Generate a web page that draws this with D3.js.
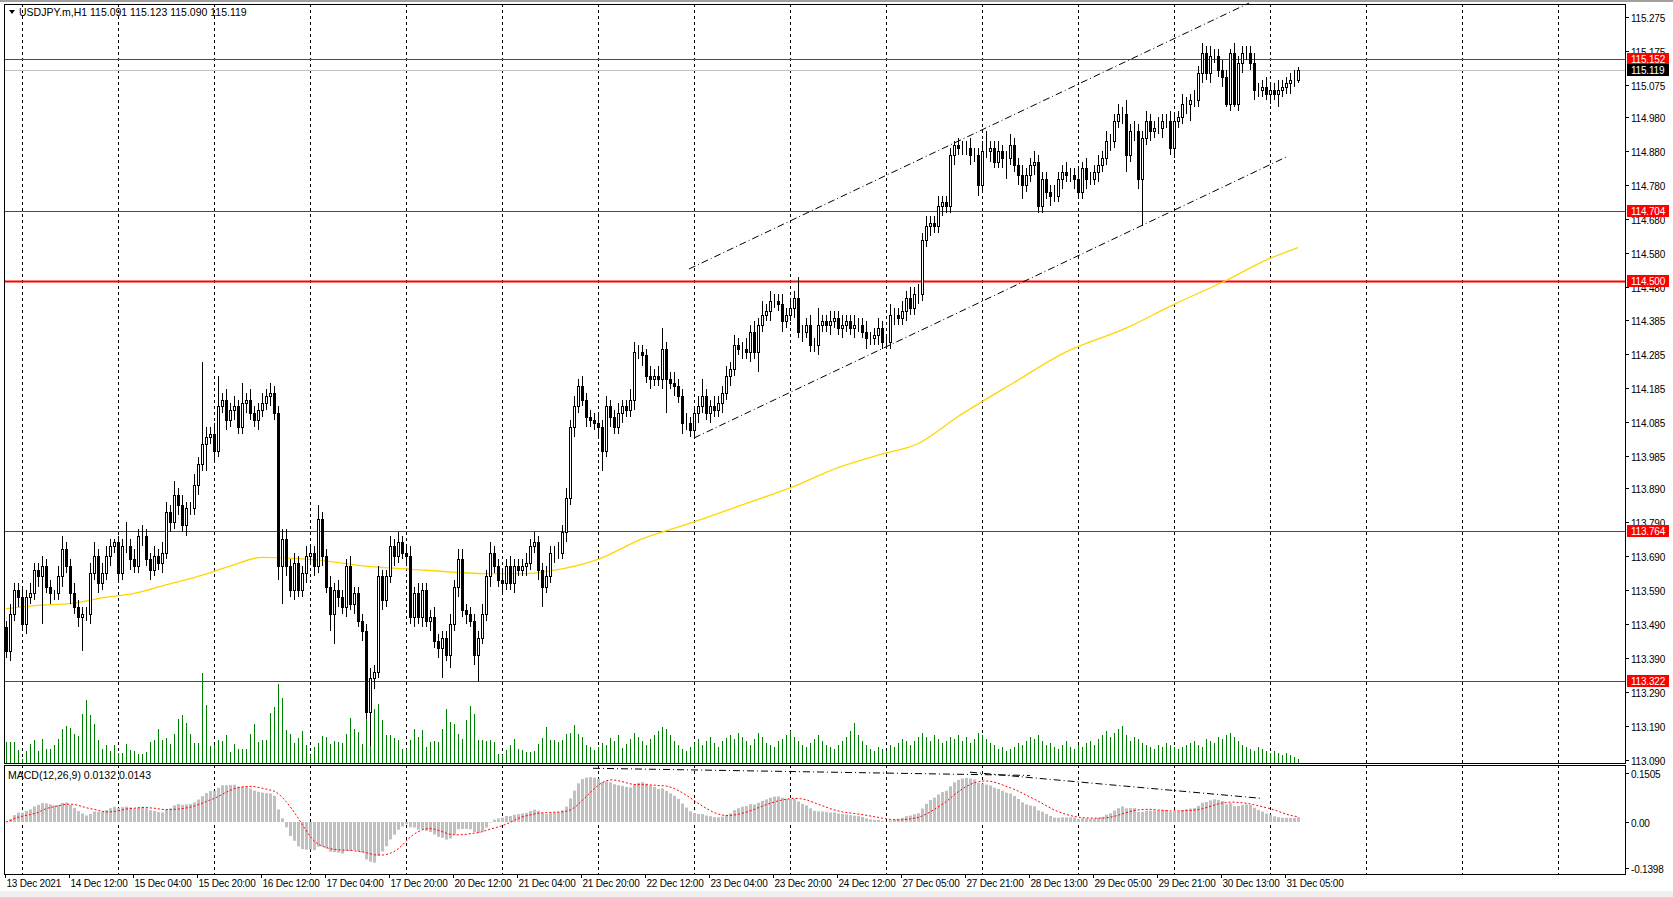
<!DOCTYPE html>
<html>
<head>
<meta charset="utf-8">
<script src="https://cdn.jsdelivr.net/npm/d3@7"></script>
<style>
  body { margin: 0; background: #fff; }
  svg text { font-family: "Liberation Sans", Arial, sans-serif; font-size: 10.5px; fill: #000; }
  svg text.ax { font-size: 10px; letter-spacing: -0.2px; }
</style>
</head>
<body>
<div id="chart"></div>
<script>
// hourly closes, USDJPY 13 Dec 2021 .. 31 Dec 2021
const closes = [
  113.41,113.52,113.59,113.57,113.49,113.57,113.58,113.65,113.63,113.66,113.60,113.58,113.58,113.63,113.71,113.66,113.58,113.54,113.51,113.52,
  113.52,113.64,113.69,113.61,113.64,113.69,113.72,113.73,113.64,113.72,113.72,113.68,113.66,113.75,113.75,113.68,113.65,113.69,113.67,113.70,
  113.82,113.79,113.87,113.84,113.78,113.83,113.83,113.90,113.96,114.02,114.04,114.05,114.00,114.13,114.15,114.09,114.12,114.13,114.07,114.14,
  114.15,114.11,114.09,114.12,114.14,114.16,114.17,114.11,113.66,113.74,113.66,113.59,113.67,113.59,113.64,113.69,113.70,113.66,113.80,113.69,
  113.60,113.52,113.59,113.57,113.54,113.66,113.55,113.58,113.50,113.47,113.23,113.33,113.35,113.63,113.56,113.63,113.72,113.69,113.73,113.70,
  113.69,113.51,113.58,113.51,113.59,113.50,113.51,113.44,113.42,113.45,113.40,113.49,113.60,113.68,113.53,113.52,113.50,113.40,113.45,113.52,
  113.63,113.70,113.66,113.62,113.61,113.66,113.61,113.66,113.65,113.66,113.67,113.72,113.73,113.65,113.60,113.63,113.70,113.70,113.70,113.76,
  113.86,114.07,114.13,114.19,114.15,114.10,114.09,114.08,114.07,114.00,114.13,114.10,114.07,114.11,114.13,114.12,114.15,114.29,114.29,114.28,
  114.22,114.21,114.22,114.21,114.30,114.21,114.20,114.19,114.16,114.08,114.08,114.06,114.11,114.13,114.16,114.11,114.13,114.12,114.14,114.17,
  114.22,114.24,114.31,114.30,114.30,114.29,114.35,114.29,114.37,114.40,114.41,114.44,114.44,114.43,114.38,114.40,114.42,114.45,114.35,114.35,
  114.37,114.31,114.31,114.37,114.38,114.37,114.38,114.39,114.36,114.37,114.38,114.36,114.37,114.37,114.35,114.33,114.33,114.34,114.36,114.32,
  114.32,114.40,114.40,114.39,114.41,114.45,114.42,114.46,114.46,114.62,114.66,114.67,114.66,114.72,114.73,114.72,114.87,114.90,114.89,114.89,
  114.89,114.87,114.87,114.78,114.88,114.88,114.89,114.85,114.88,114.86,114.86,114.90,114.84,114.81,114.78,114.81,114.84,114.85,114.72,114.80,
  114.76,114.75,114.75,114.80,114.82,114.81,114.81,114.80,114.76,114.83,114.80,114.80,114.82,114.84,114.86,114.91,114.91,114.97,114.99,114.99,
  114.87,114.94,114.94,114.80,114.92,114.97,114.94,114.95,114.95,114.97,114.97,114.89,114.97,114.98,115.02,115.02,115.03,115.03,115.11,115.17,
  115.11,115.16,115.16,115.12,115.10,115.02,115.17,115.02,115.14,115.17,115.17,115.14,115.06,115.06,115.07,115.05,115.06,115.05,115.06,115.07,
  115.08,115.09,115.09,115.119
];
const firstOpen = 113.48;

// wick length beyond the body, in pips (0.01)
const hiPips = [
  2,3,2,2,3,2,3,2,2,3,2,2,1,3,4,2,2,3,2,2,
  2,3,4,2,3,3,2,1,2,2,7,2,3,2,3,2,2,3,2,3,
  3,2,4,2,3,2,2,3,2,24,3,2,3,9,2,3,2,3,2,6,
  2,3,2,2,3,2,3,2,2,3,3,2,3,2,2,3,2,2,4,2,
  2,3,2,3,2,2,3,2,2,2,2,3,2,3,2,2,3,2,3,2,
  2,3,2,3,2,2,2,3,2,2,2,3,2,3,3,2,2,2,2,3,
  2,3,2,2,3,2,3,2,2,2,3,2,3,2,2,3,2,2,3,2,
  3,2,3,2,3,2,2,2,3,2,3,2,2,3,2,2,3,3,2,2,
  2,3,2,3,6,2,2,3,2,2,3,2,2,3,5,2,2,3,2,2,
  3,2,3,2,2,3,2,3,2,4,2,3,2,2,3,2,3,2,6,2,
  2,3,2,5,2,2,3,2,2,3,2,2,3,2,2,3,2,2,3,2,
  2,3,2,2,3,2,3,2,3,2,3,2,2,3,2,2,2,1,2,2,
  2,3,2,2,3,6,2,2,3,2,2,3,2,2,3,2,2,3,2,2,
  2,2,3,2,2,3,2,2,3,2,3,2,2,3,2,3,2,2,3,2,
  4,2,3,2,2,3,2,2,3,2,2,3,2,2,3,2,2,3,2,3,
  2,3,2,2,3,2,1,3,2,2,2,2,3,2,2,3,2,2,3,2,
  2,2,3,1
];
const loPips = [
  2,3,2,3,2,3,2,2,3,14,2,3,2,2,3,2,3,2,3,10,
  2,3,2,3,2,2,3,2,3,2,2,3,2,2,3,2,3,2,2,3,
  2,3,2,3,2,3,2,2,3,2,8,2,3,2,2,3,2,3,2,2,
  3,2,2,3,2,2,3,2,4,11,3,2,3,2,2,3,2,3,2,3,
  2,5,9,3,2,3,2,3,2,3,2,10,3,2,3,2,2,3,2,2,
  3,2,3,2,3,2,3,2,3,9,2,4,2,3,2,3,2,3,8,2,
  2,3,2,2,3,2,2,3,2,2,3,2,2,3,6,2,2,3,2,2,
  3,2,3,2,2,3,2,2,3,6,2,3,2,2,3,2,2,3,2,3,
  2,3,2,2,3,10,2,3,2,3,2,2,2,3,2,2,3,2,2,3,
  2,3,2,2,3,2,3,2,6,2,2,3,2,2,3,2,2,3,2,3,
  2,2,2,3,2,2,3,2,2,3,2,2,3,2,2,3,2,2,3,2,
  2,2,3,2,2,3,2,2,3,2,2,3,2,2,3,2,2,3,2,2,
  2,3,2,3,2,2,3,2,2,3,6,2,2,3,4,2,2,3,2,2,
  2,3,2,2,3,2,2,3,2,2,3,2,2,3,2,2,3,2,2,3,
  5,2,3,3,14,2,3,2,2,3,2,2,3,2,2,3,5,2,2,3,
  2,3,2,2,3,1,2,1,2,3,2,2,3,2,2,2,3,2,4,2,
  2,3,2,1
];

const volumes = [
  21,21,21,13,4,12,19,23,12,24, 14,14,18,24,34,37,35,29,27,49, 63,48,39,23,14,18,12,18,10,10,
  19,13,12,9,9,11,21,23,34,23, 25,19,29,44,48,40,29,20,20,90, 58,17,18,23,22,28,11,19,14,14,
  14,29,39,21,23,23,50,56,79,65, 33,29,20,25,32,18,8,16,20,27, 26,19,22,21,20,29,45,34,31,19,
  49,56,54,59,43,28,28,25,23,14, 14,23,34,26,33,16,21,22,21,34, 54,41,39,29,24,43,57,49,23,23,
  22,23,21,9,8,13,18,24,14,13, 11,11,12,19,25,36,23,23,21,23, 29,30,38,29,26,18,16,13,16,
  20,18,25,22,28,15,19,24,30,26,22,18,24,28,32,36,
  34,28,22,18,14,12,16,20,24,18,22,26,20,16,22,25,
  28,24,30,26,22,18,24,30,26,20,18,16,22,24,28,32,
  26,22,18,16,20,24,28,22,18,16,14,18,22,26,32,40,
  28,22,18,14,12,16,14,12,18,16,20,24,22,18,22,26,
  30,26,22,28,24,20,22,26,24,28,22,26,20,24,30,28,
  24,20,18,14,16,12,14,16,20,18,22,26,24,28,22,18,
  20,16,14,18,22,16,14,18,16,20,22,18,24,28,32,26,
  30,34,37,28,22,26,24,20,18,16,14,18,16,20,18,16,
  14,16,18,20,22,18,16,24,22,20,26,24,28,30,26,22,
  18,16,14,12,16,14,12,10,12,10,8,10,8,6,4
];

// yellow moving average, read at [bar, price]
const maPoints = [
  [0,113.535],[8,113.545],[16,113.55],[24,113.567],[32,113.58],[40,113.605],[48,113.63],[56,113.66],
  [64,113.686],[76,113.68],[90,113.66],[105,113.648],[120,113.638],[130,113.638],[136,113.646],
  [148,113.68],[159,113.74],[172,113.79],[184,113.84],[196,113.89],[208,113.95],[219,113.99],
  [228,114.02],[238,114.10],[252,114.20],[265,114.29],[280,114.36],[292,114.43],[305,114.50],
  [315,114.56],[323,114.597]
];

const priceTicks = [115.275,115.175,115.075,114.980,114.880,114.780,114.680,114.580,114.480,114.385,114.285,
  114.185,114.085,113.985,113.890,113.790,113.690,113.590,113.490,113.390,113.290,113.190,113.090];
const levels = [
  { price: 115.152, width: 1 }, { price: 114.704, width: 1 }, { price: 114.500, width: 2 },
  { price: 113.764, width: 1 }, { price: 113.322, width: 1 }
];
const bidPrice = 115.119;
const macdTicks = [0.1505, 0.00, -0.1398];
const macdTickLabels = ["0.1505", "0.00", "-0.1398"];
const dateLabels = ["13 Dec 2021","14 Dec 12:00","15 Dec 04:00","15 Dec 20:00","16 Dec 12:00","17 Dec 04:00",
  "17 Dec 20:00","20 Dec 12:00","21 Dec 04:00","21 Dec 20:00","22 Dec 12:00","23 Dec 04:00","23 Dec 20:00",
  "24 Dec 12:00","27 Dec 05:00","27 Dec 21:00","28 Dec 13:00","29 Dec 05:00","29 Dec 21:00","30 Dec 13:00","31 Dec 05:00"];
const channelLines = [
  [[170.75,114.534],[310.75,115.316]],
  [[172,114.037],[320,114.863]]
];
const macdLines = [
  [[146.75,0.165],[256,0.143]],
  [[241,0.153],[313.5,0.073]]
];

const W = 1673, H = 897;
const L = 4, R = 1625, mainTop = 4, mainBot = 763, mTop = 765, mBot = 874;

const svg = d3.select("#chart").append("svg").attr("width", W).attr("height", H);
svg.append("rect").attr("width", W).attr("height", H).attr("fill", "#fff");
svg.append("rect").attr("x", 0).attr("y", 0).attr("width", W).attr("height", 2).attr("fill", "#a0a0a0");
svg.append("rect").attr("x", 0).attr("y", 891).attr("width", W).attr("height", 6).attr("fill", "#f0f0f0");

const x = d3.scaleLinear().domain([0, 404.75]).range([6, R]);
const y = d3.scaleLinear().domain([113.09, 115.275]).range([760, 17]);
const yVol = d3.scaleLinear().domain([0, 100]).range([mainBot, mainBot - 100]);
const yM = d3.scaleLinear().domain([-0.1398, 0.1505]).range([867.5, 773]);

const main = svg.append("g");
main.append("clipPath").attr("id", "clipMain").append("rect")
  .attr("x", L).attr("y", mainTop).attr("width", R - L).attr("height", mainBot - mainTop);
main.append("clipPath").attr("id", "clipM").append("rect")
  .attr("x", L).attr("y", mTop).attr("width", R - L).attr("height", mBot - mTop);

// vertical grid every 24 bars
const gridBars = d3.range(4, 405, 24);
[[mainTop, mainBot], [mTop, mBot]].forEach(([a, b]) => {
  svg.append("g").selectAll("line").data(gridBars).enter().append("line")
    .attr("x1", d => Math.round(x(d)) + 0.5).attr("x2", d => Math.round(x(d)) + 0.5)
    .attr("y1", a).attr("y2", b)
    .attr("stroke", "#000").attr("stroke-dasharray", "3,3").attr("stroke-width", 1);
});

// volumes
svg.append("g").attr("clip-path", "url(#clipMain)").selectAll("line").data(volumes).enter().append("line")
  .attr("x1", (d, i) => x(i) + 0.5).attr("x2", (d, i) => x(i) + 0.5)
  .attr("y1", mainBot).attr("y2", d => yVol(d))
  .attr("stroke", "#008000").attr("stroke-width", 1);

// horizontal levels
svg.append("line").attr("x1", L).attr("x2", R)
  .attr("y1", Math.round(y(bidPrice)) + 0.5).attr("y2", Math.round(y(bidPrice)) + 0.5)
  .attr("stroke", "#c0c0c0");
svg.append("g").selectAll("line").data(levels).enter().append("line")
  .attr("x1", L).attr("x2", R)
  .attr("y1", d => Math.round(y(d.price)) + 0.5).attr("y2", d => Math.round(y(d.price)) + 0.5)
  .attr("stroke", "#ff0000").attr("stroke-width", d => d.width);

// moving average
const ma = d3.line().x(d => x(d[0])).y(d => y(d[1])).curve(d3.curveMonotoneX);
svg.append("path").attr("d", ma(maPoints)).attr("fill", "none").attr("stroke", "#ffd700").attr("stroke-width", 1.3);

// channel
const pl = d3.line().x(d => x(d[0])).y(d => y(d[1]));
svg.append("g").selectAll("path").data(channelLines).enter().append("path")
  .attr("d", pl).attr("stroke", "#000").attr("fill", "none").attr("stroke-dasharray", "7,3,1,3");

// candles
const candles = closes.map((c, i) => {
  const o = i === 0 ? firstOpen : closes[i - 1];
  const top = Math.max(o, c), bot = Math.min(o, c);
  return { i, o, c, h: top + hiPips[i] / 100, l: bot - loPips[i] / 100 };
});
const cg = svg.append("g").attr("clip-path", "url(#clipMain)");
cg.selectAll("line").data(candles).enter().append("line")
  .attr("x1", d => x(d.i) + 0.5).attr("x2", d => x(d.i) + 0.5)
  .attr("y1", d => Math.round(y(d.h))).attr("y2", d => Math.round(y(d.l)))
  .attr("stroke", "#000");
cg.selectAll("rect").data(candles).enter().append("rect")
  .attr("x", d => x(d.i) - 0.5).attr("width", 2)
  .attr("y", d => Math.round(y(Math.max(d.o, d.c))) + 0.5)
  .attr("height", d => Math.max(0, Math.round(y(Math.min(d.o, d.c))) - Math.round(y(Math.max(d.o, d.c)))))
  .attr("fill", d => d.c >= d.o ? "#fff" : "#000").attr("stroke", "#000");

// MACD(12,26,9): EMA difference, SMA signal
function ema(arr, n) {
  const k = 2 / (n + 1); let e = arr[0];
  return arr.map(v => (e = v * k + e * (1 - k)));
}
const e12 = ema(closes, 12), e26 = ema(closes, 26);
const macd = e12.map((v, i) => v - e26[i]);
const signal = macd.map((v, i) => d3.mean(macd.slice(Math.max(0, i - 8), i + 1)));
const mg = svg.append("g").attr("clip-path", "url(#clipM)");
mg.selectAll("line").data(macd).enter().append("line")
  .attr("x1", (d, i) => x(i) + 0.5).attr("x2", (d, i) => x(i) + 0.5)
  .attr("y1", yM(0)).attr("y2", d => yM(d))
  .attr("stroke", "#c0c0c0").attr("stroke-width", 3);
mg.append("path").attr("d", d3.line().x((d, i) => x(i)).y(d => yM(d))(signal))
  .attr("fill", "none").attr("stroke", "#ff0000").attr("stroke-dasharray", "2,2");
const ml = d3.line().x(d => x(d[0])).y(d => yM(d[1]));
mg.selectAll("path.tl").data(macdLines).enter().append("path").attr("class", "tl")
  .attr("d", ml).attr("stroke", "#000").attr("fill", "none").attr("stroke-dasharray", "7,3,1,3");

// frames
[[mainTop, mainBot], [mTop, mBot]].forEach(([a, b]) => {
  svg.append("rect").attr("x", L + 0.5).attr("y", a + 0.5).attr("width", R - L).attr("height", b - a)
    .attr("fill", "none").attr("stroke", "#000");
});

// price axis
const ax = svg.append("g");
priceTicks.forEach(p => {
  const yy = Math.round(y(p)) + 0.5;
  ax.append("line").attr("x1", R).attr("x2", R + 4).attr("y1", yy).attr("y2", yy).attr("stroke", "#000");
  ax.append("text").attr("class", "ax").attr("x", R + 6).attr("y", yy + 4).text(p.toFixed(3));
});
macdTicks.forEach((v, i) => {
  const yy = Math.round(yM(v)) + 0.5;
  ax.append("line").attr("x1", R).attr("x2", R + 4).attr("y1", yy).attr("y2", yy).attr("stroke", "#000");
  ax.append("text").attr("class", "ax").attr("x", R + 6).attr("y", yy + 4).text(macdTickLabels[i]);
});
// price tags
const tags = levels.map(d => ({ price: d.price, fill: "#ff0000" })).concat([{ price: bidPrice, fill: "#000" }]);
tags.forEach(t => {
  const yy = Math.round(y(t.price));
  ax.append("rect").attr("x", R + 2).attr("y", yy - 6).attr("width", 42).attr("height", 12).attr("fill", t.fill);
  ax.append("text").attr("class", "ax").attr("x", R + 6).attr("y", yy + 4).style("fill", "#fff").text(t.price.toFixed(3));
});

// time axis
dateLabels.forEach((s, k) => {
  const xx = Math.round(x(k * 16)) + 0.5;
  ax.append("line").attr("x1", xx - 1).attr("x2", xx - 1).attr("y1", mBot).attr("y2", mBot + 4).attr("stroke", "#000");
  ax.append("text").attr("class", "ax").attr("x", xx).attr("y", 887).text(s);
});

// headers
svg.append("path").attr("d", "M9,10 L15,10 L12,14 Z").attr("fill", "#000");
svg.append("text").attr("x", 19).attr("y", 16).text("USDJPY.m,H1  115.091 115.123 115.090 115.119");
svg.append("text").attr("x", 8).attr("y", 779).text("MACD(12,26,9) 0.0132 0.0143");
</script>
</body>
</html>
